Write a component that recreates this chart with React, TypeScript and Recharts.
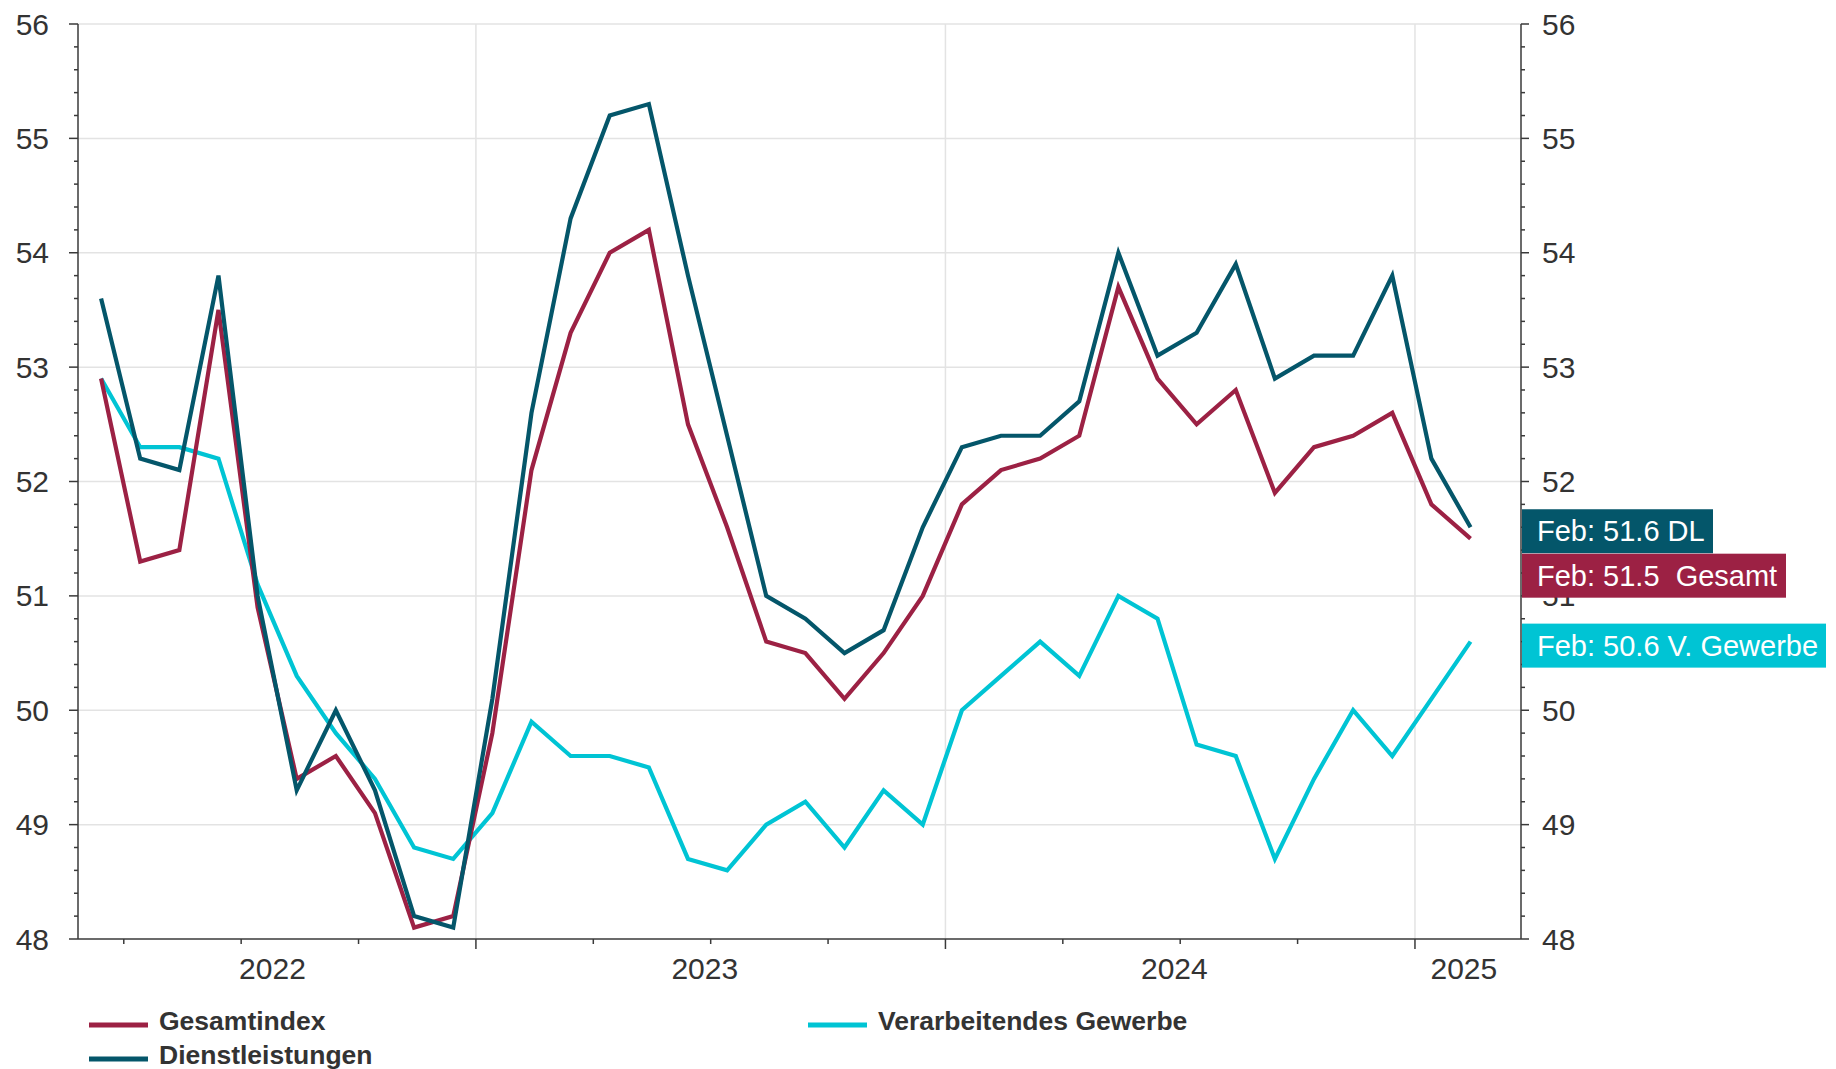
import { CartesianGrid, Line, LineChart, ReferenceDot, XAxis, YAxis } from "recharts";

const months = [
  "2022-03", "2022-04", "2022-05", "2022-06", "2022-07", "2022-08", "2022-09", "2022-10", "2022-11", "2022-12",
  "2023-01", "2023-02", "2023-03", "2023-04", "2023-05", "2023-06", "2023-07", "2023-08", "2023-09", "2023-10",
  "2023-11", "2023-12", "2024-01", "2024-02", "2024-03", "2024-04", "2024-05", "2024-06", "2024-07", "2024-08",
  "2024-09", "2024-10", "2024-11", "2024-12", "2025-01", "2025-02",
];

const gesamt = [
  52.9, 51.3, 51.4, 53.5, 50.9, 49.4, 49.6, 49.1, 48.1, 48.2,
  49.8, 52.1, 53.3, 54.0, 54.2, 52.5, 51.6, 50.6, 50.5, 50.1,
  50.5, 51.0, 51.8, 52.1, 52.2, 52.4, 53.7, 52.9, 52.5, 52.8,
  51.9, 52.3, 52.4, 52.6, 51.8, 51.5,
];

const dienst = [
  53.6, 52.2, 52.1, 53.8, 51.0, 49.3, 50.0, 49.3, 48.2, 48.1,
  50.1, 52.6, 54.3, 55.2, 55.3, 53.8, 52.4, 51.0, 50.8, 50.5,
  50.7, 51.6, 52.3, 52.4, 52.4, 52.7, 54.0, 53.1, 53.3, 53.9,
  52.9, 53.1, 53.1, 53.8, 52.2, 51.6,
];

const gewerbe = [
  52.9, 52.3, 52.3, 52.2, 51.1, 50.3, 49.8, 49.4, 48.8, 48.7,
  49.1, 49.9, 49.6, 49.6, 49.5, 48.7, 48.6, 49.0, 49.2, 48.8,
  49.3, 49.0, 50.0, 50.3, 50.6, 50.3, 51.0, 50.8, 49.7, 49.6,
  48.7, 49.4, 50.0, 49.6, 50.1, 50.6,
];

const monthNames = ["Jan", "Feb", "Mär", "Apr", "Mai", "Jun", "Jul", "Aug", "Sep", "Okt", "Nov", "Dez"];

const yearLabels = ["2022", "2023", "2024", "2025"];
const yearLabelPos = [6.8, 17.85, 29.85, 37.25];
const quarterTicks = [3, 6, 9, 12, 15, 18, 21, 24, 27, 30, 33, 36];
const yearLines = [12, 24, 36];
const yMajor = [48, 49, 50, 51, 52, 53, 54, 55, 56];
const yGrid = [49, 50, 51, 52, 53, 54, 55, 56];

const FONT = "'Liberation Sans', Arial, sans-serif";
const TEXT = "#333333";
const AXIS = "#3a3a3a";
const C_GESAMT = "#9c2144";
const C_DIENST = "#04566a";
const C_GEWERBE = "#00c4d4";

const X_MIN = 1.83;
const X_MAX = 38.71;

const toX = (m: string) => {
  const [y, mo] = m.split("-").map(Number);
  return (y - 2022) * 12 + (mo - 1) + 0.42;
};

const data = months.map((m, i) => ({
  x: toX(m),
  gesamt: gesamt[i],
  dienst: dienst[i],
  gewerbe: gewerbe[i],
}));

const yTicks: number[] = [];
for (let k = 48 * 5; k <= 56 * 5; k++) yTicks.push(k / 5);

const isMajor = (v: number) => yMajor.some((m) => Math.abs(m - v) < 1e-6);

function XTick(props: any) {
  const { x, y, payload } = props;
  const v = payload.value;
  const li = yearLabelPos.indexOf(v);
  if (li >= 0) {
    return (
      <text x={x} y={y + 29} textAnchor="middle" dominantBaseline="central" fontSize={30} fill={TEXT} fontFamily={FONT}>
        {yearLabels[li]}
      </text>
    );
  }
  const len = v % 12 === 0 ? 10 : 5;
  return <line x1={x} x2={x} y1={y} y2={y + len} stroke={AXIS} strokeWidth={1.5} />;
}

function LeftTick(props: any) {
  const { x, y, payload } = props;
  const major = isMajor(payload.value);
  return (
    <g>
      <line x1={x} x2={x - (major ? 9 : 4)} y1={y} y2={y} stroke={AXIS} strokeWidth={1.5} />
      {major && (
        <text x={x - 29} y={y} textAnchor="end" dominantBaseline="central" fontSize={30} fill={TEXT} fontFamily={FONT}>
          {Math.round(payload.value)}
        </text>
      )}
    </g>
  );
}

function RightTick(props: any) {
  const { x, y, payload } = props;
  const major = isMajor(payload.value);
  return (
    <g>
      <line x1={x} x2={x + (major ? 8 : 4)} y1={y} y2={y} stroke={AXIS} strokeWidth={1.5} />
      {major && (
        <text x={x + 21} y={y} textAnchor="start" dominantBaseline="central" fontSize={30} fill={TEXT} fontFamily={FONT}>
          {Math.round(payload.value)}
        </text>
      )}
    </g>
  );
}

const lastMonth = monthNames[Number(months[months.length - 1].split("-")[1]) - 1];

const endLabels = [
  { value: dienst[dienst.length - 1], suffix: " DL", color: C_DIENST, shift: 4, width: 191 },
  { value: gesamt[gesamt.length - 1], suffix: "  Gesamt", color: C_GESAMT, shift: 37, width: 264 },
  { value: gewerbe[gewerbe.length - 1], suffix: " V. Gewerbe", color: C_GEWERBE, shift: 4, width: 304 },
];

const legendItems = [
  { name: "Gesamtindex", color: C_GESAMT, x: 89, y: 1025 },
  { name: "Dienstleistungen", color: C_DIENST, x: 89, y: 1059 },
  { name: "Verarbeitendes Gewerbe", color: C_GEWERBE, x: 808, y: 1025 },
];

export default function App() {
  return (
    <div style={{ position: "absolute", left: 0, top: 0, width: 1836, height: 1069, background: "#fff", fontFamily: FONT }}>
      <LineChart width={1836} height={1069} data={data} margin={{ top: 24, right: 255, bottom: 90, left: 18 }}>
        <CartesianGrid
          xAxisId="x"
          yAxisId="left"
          horizontalValues={yGrid}
          verticalValues={yearLines}
          stroke="#e3e3e3"
          strokeWidth={1.5}
        />
        <XAxis
          xAxisId="x"
          dataKey="x"
          type="number"
          domain={[X_MIN, X_MAX]}
          allowDataOverflow
          ticks={[...quarterTicks, ...yearLabelPos].sort((a, b) => a - b)}
          interval={0}
          tick={(p: any) => <XTick {...p} />}
          tickLine={false}
          tickSize={0}
          tickMargin={0}
          axisLine={{ stroke: AXIS, strokeWidth: 1.5 }}
          height={40}
        />
        <YAxis
          yAxisId="left"
          orientation="left"
          type="number"
          domain={[48, 56]}
          allowDataOverflow
          ticks={yTicks}
          interval={0}
          tick={(p: any) => <LeftTick {...p} />}
          tickLine={false}
          tickSize={0}
          tickMargin={0}
          axisLine={{ stroke: AXIS, strokeWidth: 1.5 }}
          width={60}
        />
        <YAxis
          yAxisId="right"
          orientation="right"
          type="number"
          domain={[48, 56]}
          allowDataOverflow
          ticks={yTicks}
          interval={0}
          tick={(p: any) => <RightTick {...p} />}
          tickLine={false}
          tickSize={0}
          tickMargin={0}
          axisLine={{ stroke: AXIS, strokeWidth: 1.5 }}
          width={60}
        />
        <Line xAxisId="x" yAxisId="left" type="linear" dataKey="gewerbe" stroke={C_GEWERBE} strokeWidth={4.2} dot={false} isAnimationActive={false} />
        <Line xAxisId="x" yAxisId="left" type="linear" dataKey="gesamt" stroke={C_GESAMT} strokeWidth={4.2} dot={false} isAnimationActive={false} />
        <Line xAxisId="x" yAxisId="left" type="linear" dataKey="dienst" stroke={C_DIENST} strokeWidth={4.2} dot={false} isAnimationActive={false} />
        {endLabels.map((l) => (
          <ReferenceDot
            key={l.suffix}
            xAxisId="x"
            yAxisId="right"
            x={X_MAX}
            y={l.value}
            ifOverflow="visible"
            zIndex={3000}
            shape={(p: any) => (
              <g>
                <rect x={p.cx + 1} y={p.cy + l.shift - 22} width={l.width} height={44} fill={l.color} />
                <text
                  x={p.cx + 16}
                  y={p.cy + l.shift}
                  dominantBaseline="central"
                  fontSize={29}
                  fill="#ffffff"
                  fontFamily={FONT}
                  style={{ whiteSpace: "pre" }}
                >
                  {`${lastMonth}: ${l.value.toFixed(1)}${l.suffix}`}
                </text>
              </g>
            )}
          />
        ))}
      </LineChart>
      <svg width={1836} height={1069} style={{ position: "absolute", left: 0, top: 0, pointerEvents: "none" }}>
        {legendItems.map((it) => (
          <g key={it.name}>
            <rect x={it.x} y={it.y - 2.5} width={59} height={5} fill={it.color} />
            <text x={it.x + 70} y={it.y + 5} fontSize={26.5} fontWeight="bold" fill={TEXT} fontFamily={FONT}>
              {it.name}
            </text>
          </g>
        ))}
      </svg>
    </div>
  );
}
